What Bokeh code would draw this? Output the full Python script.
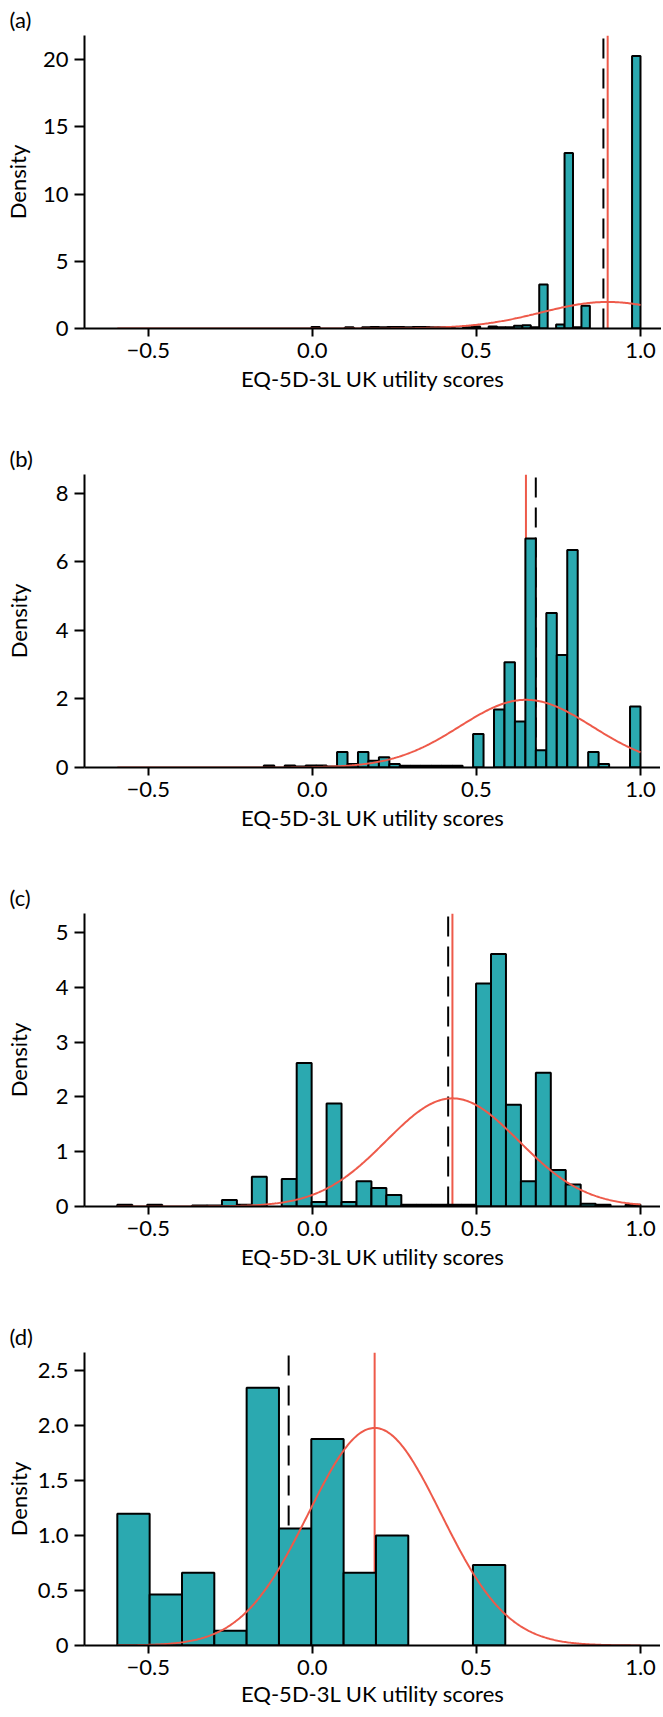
import numpy as np
from bokeh.plotting import figure
from bokeh.layouts import column
from bokeh.models import Range1d, FixedTicker, CustomJSTickFormatter
from bokeh.embed import file_html
from bokeh.resources import INLINE

# ---------------- data ----------------
panel_labels = ["(a)", "(b)", "(c)", "(d)"]
x_title = "EQ-5D-3L UK utility scores"
y_title = "Density"
x_ticks = [-0.5, 0.0, 0.5, 1.0]

bin_start = -0.594
curve_start = -0.594
curve_end = 1.0

a_bin_width = 1.594 / 62
a_density = [0] * 23 + [0.12, 0, 0, 0, 0.1, 0, 0.1, 0.12, 0.1, 0.12, 0.12, 0.1, 0.12,
                        0.12, 0.1, 0.1, 0.05, 0, 0.1, 0.15, 0, 0.15, 0.1, 0.1, 0.2, 0.25,
                        0.1, 3.27, 0, 0.3, 13.05, 0.1, 1.7, 0, 0, 0, 0, 0, 20.27]
a_yticks = [0, 5, 10, 15, 20]
a_ymax = 21.8
a_observed_mean = 0.887
a_normal_mean = 0.900

b_bin_width = 1.594 / 50
b_density = [0] * 14 + [0.06, 0, 0.06, 0.03, 0.06, 0.06, 0.03, 0.45, 0.1, 0.45, 0.2, 0.3,
                        0.1, 0.05, 0.05, 0.05, 0.05, 0.05, 0.05, 0, 0.98, 0, 1.69, 3.07,
                        1.34, 6.68, 0.5, 4.51, 3.28, 6.35, 0, 0.45, 0.1, 0, 0, 1.78]
b_yticks = [0, 2, 4, 6, 8]
b_ymax = 8.55
b_observed_mean = 0.681
b_normal_mean = 0.651

c_bin_width = 1.594 / 35
c_density = [0.03, 0, 0.03, 0, 0, 0.02, 0.02, 0.12, 0.03, 0.545, 0, 0.50, 2.62, 0.08,
             1.88, 0.08, 0.46, 0.34, 0.21, 0.03, 0.03, 0.03, 0.03, 0.03, 4.07, 4.61,
             1.86, 0.46, 2.44, 0.667, 0.40, 0.05, 0.03, 0, 0.03]
c_yticks = [0, 1, 2, 3, 4, 5]
c_ymax = 5.35
c_observed_mean = 0.414
c_normal_mean = 0.427

d_bin_width = 0.0985
d_density = [1.196, 0.462, 0.661, 0.133, 2.34, 1.063, 1.875, 0.661, 0.999, 0, 0, 0.731]
d_yticks = [0, 0.5, 1.0, 1.5, 2.0, 2.5]
d_ymax = 2.66
d_observed_mean = -0.072
d_normal_mean = 0.190

normal_sd = 0.202

# ---------------- style ----------------
TEAL = "#2BA9B0"
RED = "#EE5A4A"
FONT = "Lato"
FS = "22px"
X_START, X_END = -0.694, 1.064
FRAME_W, FRAME_H = 577, 293
TOP = 32
STRIDE = 436
TOTAL_H = 1701

x_fmt = CustomJSTickFormatter(code="return (tick < 0 ? '\u2212' : '') + Math.abs(tick).toFixed(1);")


def panel(idx, width_bin, dens, yticks, ymax, obs_mean, nmean, y_dec, ylab_standoff, last=False):
    bottom = (TOTAL_H - 3 * STRIDE - TOP - FRAME_H) if last else (STRIDE - TOP - FRAME_H)
    p = figure(frame_width=FRAME_W, frame_height=FRAME_H,
               min_border_left=78, min_border_right=0, min_border_top=TOP,
               min_border_bottom=bottom,
               x_range=Range1d(X_START, X_END), y_range=Range1d(0, ymax),
               output_backend="svg", toolbar_location=None, tools="")
    p.outline_line_color = None
    p.grid.visible = False
    p.background_fill_color = "white"
    p.border_fill_color = "white"

    # panel letter as the figure title
    p.title.text = panel_labels[idx]
    p.title.align = "left"
    p.title.offset = -75
    p.title.standoff = 6
    p.title.text_font = FONT
    p.title.text_font_size = FS
    p.title.text_font_style = "normal"
    p.title.text_color = "black"

    # vertical reference lines (behind bars)
    p.segment(x0=[obs_mean], y0=[0], x1=[obs_mean], y1=[ymax],
              line_color="black", line_width=2, line_dash="20 10")
    p.segment(x0=[nmean], y0=[0], x1=[nmean], y1=[ymax],
              line_color=RED, line_width=2)

    d = np.array(dens, dtype=float)
    left = bin_start + np.arange(len(d)) * width_bin
    keep = d > 0
    p.quad(left=left[keep], right=(left + width_bin)[keep], bottom=0, top=d[keep],
           fill_color=TEAL, line_color="black", line_width=2)

    # fitted normal density
    xs = np.linspace(curve_start, curve_end, 400)
    ys = np.exp(-0.5 * ((xs - nmean) / normal_sd) ** 2) / (normal_sd * np.sqrt(2 * np.pi))
    p.line(xs, ys, line_color=RED, line_width=2)

    # axes
    for ax in (p.xaxis[0], p.yaxis[0]):
        ax.axis_line_width = 2
        ax.axis_line_color = "black"
        ax.major_tick_line_width = 2
        ax.major_tick_line_color = "black"
        ax.major_tick_in = 0
        ax.minor_tick_line_color = None
        ax.major_label_text_font = FONT
        ax.major_label_text_font_size = FS
        ax.major_label_text_color = "black"
        ax.axis_label_text_font = FONT
        ax.axis_label_text_font_size = FS
        ax.axis_label_text_font_style = "normal"
        ax.axis_label_text_color = "black"

    xa = p.xaxis[0]
    xa.ticker = FixedTicker(ticks=x_ticks)
    xa.formatter = x_fmt
    xa.major_tick_out = 8
    xa.major_label_standoff = 6
    xa.axis_label = x_title
    xa.axis_label_standoff = 2 if last else 4

    ya = p.yaxis[0]
    ya.ticker = FixedTicker(ticks=yticks)
    if y_dec:
        ya.formatter = CustomJSTickFormatter(code="return tick == 0 ? '0' : tick.toFixed(1);")
    else:
        ya.formatter = CustomJSTickFormatter(code="return tick.toFixed(0);")
    ya.major_tick_out = 10
    ya.major_label_standoff = 6
    ya.axis_label = y_title
    ya.axis_label_standoff = ylab_standoff
    return p


pa = panel(0, a_bin_width, a_density, a_yticks, a_ymax, a_observed_mean, a_normal_mean, False, 9)
pb = panel(1, b_bin_width, b_density, b_yticks, b_ymax, b_observed_mean, b_normal_mean, False, 21)
pc = panel(2, c_bin_width, c_density, c_yticks, c_ymax, c_observed_mean, c_normal_mean, False, 21)
pd_ = panel(3, d_bin_width, d_density, d_yticks, d_ymax, d_observed_mean, d_normal_mean, True, 3, last=True)

layout = column(pa, pb, pc, pd_, spacing=0)
open("out.html", "w").write(file_html(layout, INLINE))
